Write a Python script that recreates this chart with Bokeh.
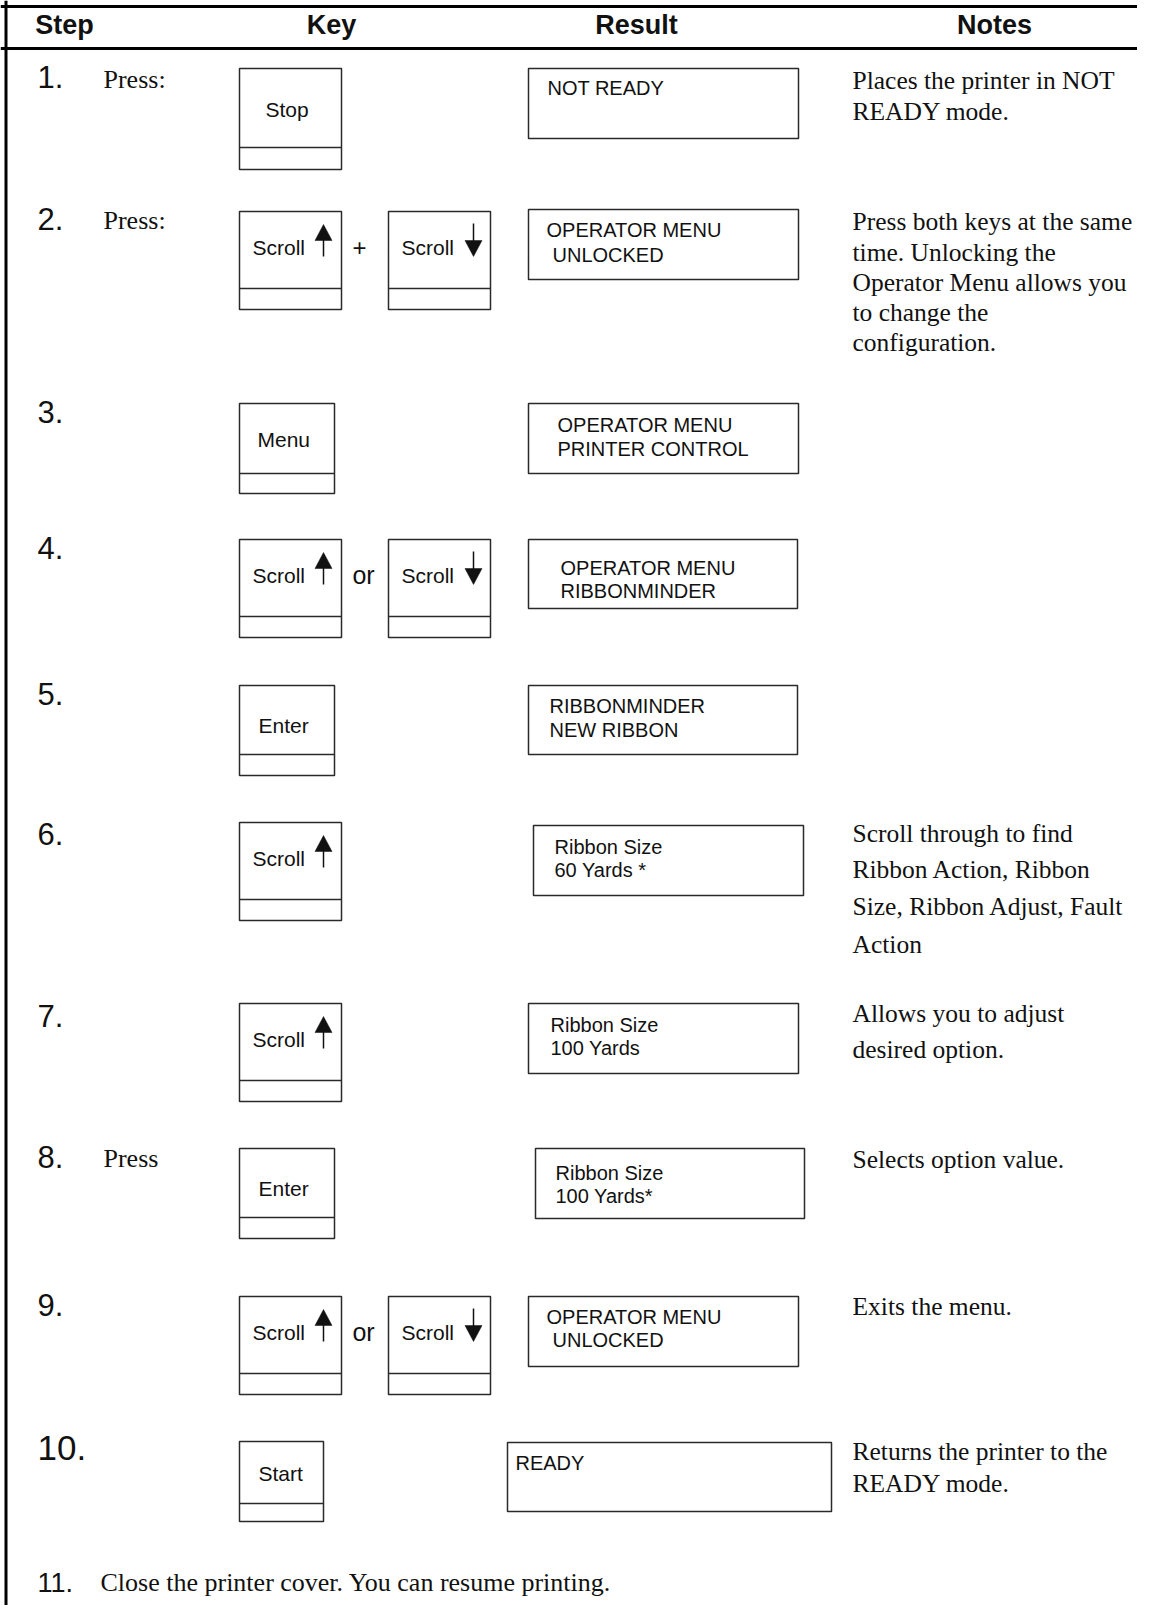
from bokeh.plotting import figure
from bokeh.models import Range1d
from bokeh.core.properties import value
from bokeh.embed import file_html
from bokeh.resources import INLINE

# ---------------- content ----------------
headers = ["Step", "Key", "Result", "Notes"]
steps = ["1.", "2.", "3.", "4.", "5.", "6.", "7.", "8.", "9.", "10.", "11."]
press_labels = ["Press:", "Press:", "Press"]

# keys per row: (label, arrow)
key_rows = [
    [("Stop", None)],
    [("Scroll", "up"), ("Scroll", "down")],
    [("Menu", None)],
    [("Scroll", "up"), ("Scroll", "down")],
    [("Enter", None)],
    [("Scroll", "up")],
    [("Scroll", "up")],
    [("Enter", None)],
    [("Scroll", "up"), ("Scroll", "down")],
    [("Start", None)],
]
key_connectors = [None, "+", None, "or", None, None, None, None, "or", None]

results = [
    ["NOT READY"],
    ["OPERATOR MENU", "UNLOCKED"],
    ["OPERATOR MENU", "PRINTER CONTROL"],
    ["OPERATOR MENU", "RIBBONMINDER"],
    ["RIBBONMINDER", "NEW RIBBON"],
    ["Ribbon Size", "60 Yards *"],
    ["Ribbon Size", "100 Yards"],
    ["Ribbon Size", "100 Yards*"],
    ["OPERATOR MENU", "UNLOCKED"],
    ["READY"],
]

notes = [
    ["Places the printer in NOT", "READY mode."],
    ["Press both keys at the same", "time. Unlocking the", "Operator Menu allows you",
     "to change the", "configuration."],
    [], [], [],
    ["Scroll through to find", "Ribbon Action, Ribbon", "Size, Ribbon Adjust, Fault", "Action"],
    ["Allows you to adjust", "desired option."],
    ["Selects option value."],
    ["Exits the menu."],
    ["Returns the printer to the", "READY mode."],
]
final_note = "Close the printer cover. You can resume printing."

# ---------------- layout (page pixels) ----------------
header_x = [64, 331, 636, 994]
header_base = 34
step_x = 37
step_base = [88, 230, 423, 559, 705, 845, 1027, 1168, 1316, 1460, 1592]
step_size = [31] * 9 + [35, 27]
press_x = 103
press_base = [89, 230, 1168]

key_top = [68, 211, 403, 539, 685, 822, 1003, 1148, 1296, 1441]
key_left = [239, 388]
# width, height, divider offset, label baseline offset, label x offset
key_geom = {
    "Stop": (102, 101, 79, 49, 26),
    "Scroll": (102, 98, 77, 44, 13),
    "Menu": (95, 90, 70, 44, 18),
    "Enter": (95, 90, 69, 48, 19),
    "Start": (84, 80, 62, 40, 19),
}
conn_x = {"+": 359, "or": 363}

result_box = [
    (528, 798, 68, 138), (528, 798, 209, 279), (528, 798, 403, 473),
    (528, 797, 539, 608), (528, 797, 685, 754), (533, 803, 825, 895),
    (528, 798, 1003, 1073), (535, 804, 1148, 1218), (528, 798, 1296, 1366),
    (507, 831, 1442, 1511),
]
result_pos = [
    [(547, 95)], [(546, 237), (552, 262)], [(557, 432), (557, 456)],
    [(560, 575), (560, 598)], [(549, 713), (549, 737)], [(554, 854), (554, 877)],
    [(550, 1032), (550, 1055)], [(555, 1180), (555, 1203)],
    [(546, 1324), (552, 1347)], [(515, 1470)],
]
notes_x = 852
notes_base = [
    [89, 120], [230, 261, 291, 321, 351], [], [], [],
    [842, 878, 915, 953], [1022, 1058], [1168], [1315], [1460, 1492],
]
final_x, final_base = 100, 1592

# ---------------- figure ----------------
W, H = 1137, 1605
p = figure(width=W, height=H, output_backend="svg", toolbar_location=None,
           x_range=Range1d(0, W), y_range=Range1d(H, 0),
           x_axis_location=None, y_axis_location=None, min_border=0,
           outline_line_color=None, background_fill_color="white",
           border_fill_color="white")
p.xgrid.visible = False
p.ygrid.visible = False

INK = "#111111"
LINE = "#2a2a2a"
SANS = value("Liberation Sans")
SERIF = value("Liberation Serif")


def by(base, size):
    """convert an alphabetic baseline to the y Bokeh needs"""
    return base - 0.37 * size


def txt(xs, bases, texts, size, font, **kw):
    p.text(x=xs, y=[by(b, size) for b in bases], text=texts, text_font=font,
           text_font_size=f"{size}px", text_baseline="alphabetic",
           text_color=INK, **kw)


# frame
p.segment(x0=[0, 5.5, 0], y0=[6, 0, 48], x1=[W, 5.5, W], y1=[6, H, 48],
          line_color="#000000", line_width=3)

# headers
txt(header_x, [header_base] * 4, headers, 27, SANS, text_font_style="bold",
    text_align="center")

# step numbers
for s, b, sz in zip(steps, step_base, step_size):
    txt([step_x], [b], [s], sz, SANS)

# press labels
txt([press_x] * len(press_labels), press_base, press_labels, 26, SERIF)

# keys
kx0, kx1, ky0, ky1 = [], [], [], []
dx0, dx1, dy = [], [], []
lab_x, lab_y, lab_t = [], [], []
stem_x0, stem_y0, stem_x1, stem_y1 = [], [], [], []
tri_xs, tri_ys = [], []
for r, keys in enumerate(key_rows):
    top = key_top[r]
    for k, (lab, arrow) in enumerate(keys):
        w, h, dv, lb, lx = key_geom[lab]
        left = key_left[k]
        kx0.append(left); kx1.append(left + w); ky0.append(top); ky1.append(top + h)
        dx0.append(left); dx1.append(left + w); dy.append(top + dv)
        lab_x.append(left + lx); lab_y.append(top + lb); lab_t.append(lab)
        if arrow == "up":
            cx = left + 84
            tri_xs.append([cx - 8.5, cx + 8.5, cx]); tri_ys.append([top + 29, top + 29, top + 13])
            stem_x0.append(cx); stem_x1.append(cx); stem_y0.append(top + 28); stem_y1.append(top + 45)
        elif arrow == "down":
            cx = left + 85
            tri_xs.append([cx - 8.5, cx + 8.5, cx]); tri_ys.append([top + 29, top + 29, top + 45])
            stem_x0.append(cx); stem_x1.append(cx); stem_y0.append(top + 12); stem_y1.append(top + 30)
    c = key_connectors[r]
    if c:
        txt([conn_x[c]], [top + 45], [c], 25 if c == "or" else 24, SANS,
            text_align="center")

p.quad(left=kx0, right=kx1, top=ky0, bottom=ky1, fill_color="white",
       line_color=LINE, line_width=1.5)
p.segment(x0=dx0, y0=dy, x1=dx1, y1=dy, line_color=LINE, line_width=1.5)
txt(lab_x, lab_y, lab_t, 21, SANS)
p.segment(x0=stem_x0, y0=stem_y0, x1=stem_x1, y1=stem_y1, line_color=INK, line_width=1.5)
p.patches(xs=tri_xs, ys=tri_ys, fill_color=INK, line_color=INK, line_width=0.5)

# result boxes
p.quad(left=[b[0] for b in result_box], right=[b[1] for b in result_box],
       top=[b[2] for b in result_box], bottom=[b[3] for b in result_box],
       fill_color="white", line_color=LINE, line_width=1.5)
rx, ry, rt = [], [], []
for lines, pos in zip(results, result_pos):
    for t, (x, y) in zip(lines, pos):
        rx.append(x); ry.append(y); rt.append(t)
txt(rx, ry, rt, 20, SANS)

# notes
nx, ny, nt = [], [], []
for lines, bases in zip(notes, notes_base):
    for t, b in zip(lines, bases):
        nx.append(notes_x); ny.append(b); nt.append(t)
txt(nx, ny, nt, 25.5, SERIF)

# final step text
txt([final_x], [final_base], [final_note], 26, SERIF)

open("out.html", "w").write(file_html(p, INLINE))
